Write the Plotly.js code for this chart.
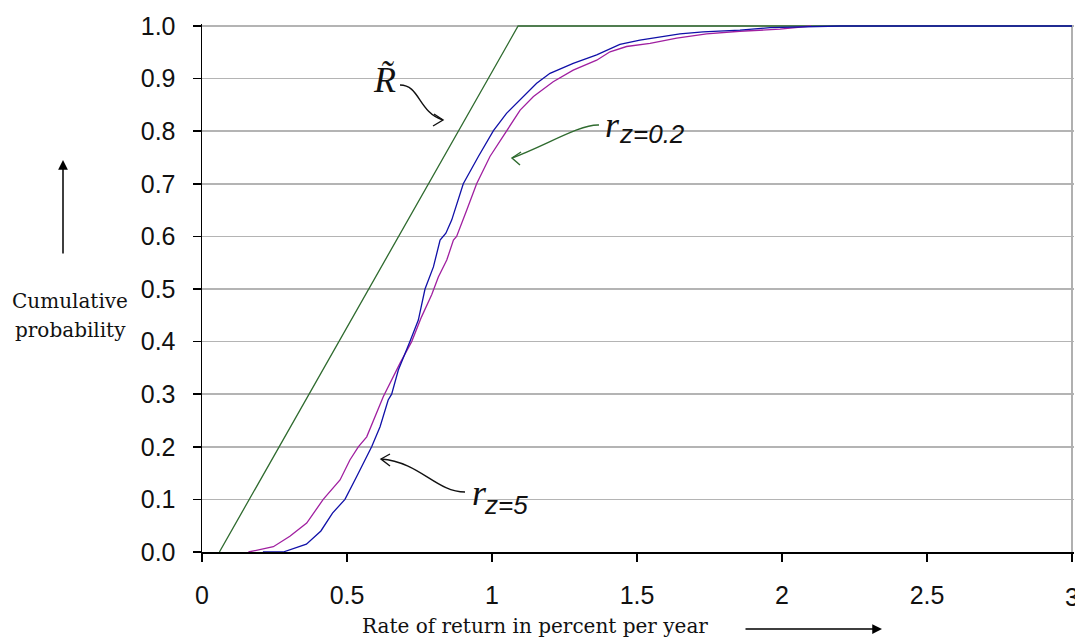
<!DOCTYPE html>
<html>
<head>
<meta charset="utf-8">
<script src="https://cdn.plot.ly/plotly-3.0.1.min.js"></script>
<style>html,body{margin:0;padding:0;background:#fff;}#chart{width:1075px;height:639px;}</style>
</head>
<body>
<div id="chart"></div>
<script>
// ---- data ----
const xRtilde = [0.06, 1.09, 3.0];
const yRtilde = [0, 1, 1];

const xRz5 = [0.21,0.28,0.36,0.41,0.45,0.493,0.533,0.562,0.585,0.614,0.642,0.654,0.677,0.717,0.746,0.769,0.798,0.821,0.841,0.861,0.872,0.901,0.953,1.005,1.05,1.091,1.154,1.2,1.28,1.361,1.441,1.51,1.579,1.648,1.728,1.855,1.959,2.2,3.0];
const yRz5 = [0,0,0.015,0.04,0.074,0.1,0.143,0.175,0.2,0.238,0.289,0.3,0.346,0.4,0.441,0.5,0.542,0.593,0.606,0.631,0.65,0.7,0.752,0.801,0.834,0.856,0.891,0.91,0.929,0.945,0.965,0.973,0.979,0.985,0.989,0.992,0.997,1.0,1.0];

const xRz02 = [0.16,0.246,0.303,0.361,0.418,0.476,0.51,0.539,0.568,0.6,0.625,0.683,0.723,0.757,0.792,0.815,0.844,0.867,0.878,0.913,0.947,0.993,1.05,1.097,1.143,1.211,1.28,1.361,1.407,1.464,1.545,1.637,1.74,1.855,1.993,2.1];
const yRz02 = [0,0.01,0.03,0.055,0.1,0.137,0.175,0.2,0.219,0.26,0.295,0.359,0.4,0.447,0.489,0.523,0.555,0.593,0.6,0.65,0.7,0.752,0.801,0.84,0.866,0.894,0.916,0.935,0.951,0.961,0.967,0.977,0.985,0.99,0.994,1.0];

const xTickVals = [0, 0.5, 1, 1.5, 2, 2.5];
const xTickText = ['0', '0.5', '1', '1.5', '2', '2.5'];
const xLastTick = '3';
const yTickVals = [0,0.1,0.2,0.3,0.4,0.5,0.6,0.7,0.8,0.9,1.0];
const yTickText = yTickVals.map(v => v.toFixed(1));

const xTitle = 'Rate of return in percent per year';
const yTitle1 = 'Cumulative';
const yTitle2 = 'probability';

// ---- layout geometry (pixels) ----
const L = 202, R = 1074, T = 24, B = 552;
const PX = x => (x - L) / (R - L);   // pixel -> paper x
const PY = y => (B - y) / (B - T);   // pixel -> paper y
const P = (x, y) => PX(x).toFixed(5) + ',' + PY(y).toFixed(5);

const GREEN = '#2f6b2f', BLUE = '#1010a8', MAG = '#a01fa0';

const traces = [
  {x: xRtilde, y: yRtilde, mode: 'lines', line: {color: GREEN, width: 1.3}, hoverinfo: 'skip'},
  {x: xRz02, y: yRz02, mode: 'lines', line: {color: MAG, width: 1.3}, hoverinfo: 'skip'},
  {x: xRz5, y: yRz5, mode: 'lines', line: {color: BLUE, width: 1.3}, hoverinfo: 'skip'}
];

function gap(x0, x1, yc) {
  return {type: 'rect', xref: 'paper', yref: 'paper', layer: 'between',
    x0: PX(x0), x1: PX(x1), y0: PY(yc + 4), y1: PY(yc - 4),
    fillcolor: '#ffffff', line: {width: 0}};
}
function path(d, color) {
  return {type: 'path', xref: 'paper', yref: 'paper', path: d, line: {color: color, width: 1.4}};
}

const shapes = [
  gap(358, 428, 78.6),
  gap(558, 693, 130.7),
  gap(427, 547, 499.4),
  {type: 'line', xref: 'x', yref: 'y', x0: 3, x1: 3, y0: 0, y1: 1, layer: 'between', line: {color: '#b0b0b0', width: 2}},
  // curved arrow to R~
  path('M' + P(400, 85) + ' C' + P(420, 85) + ' ' + P(418, 112) + ' ' + P(443, 120), '#111'),
  path('M' + P(434, 114) + ' L' + P(443, 120) + ' L' + P(433, 126), '#111'),
  // curved arrow rz=0.2
  path('M' + P(599, 125) + ' C' + P(580, 124) + ' ' + P(545, 146) + ' ' + P(512, 158), GREEN),
  path('M' + P(521, 152) + ' L' + P(512, 158) + ' L' + P(520, 165), GREEN),
  // curved arrow rz=5
  path('M' + P(465, 492) + ' C' + P(436, 492) + ' ' + P(420, 462) + ' ' + P(381, 459), '#111'),
  path('M' + P(390, 454) + ' L' + P(381, 459) + ' L' + P(390, 466), '#111')
];

const serif = 'DejaVu Serif';
function txt(text, x, y, size, family, color) {
  return {xref: 'paper', yref: 'paper', x: PX(x), y: PY(y), text: text, showarrow: false,
    xanchor: 'center', yanchor: 'middle', font: {family: family, size: size, color: color || '#111'}};
}

const tickFont = {family: 'Liberation Sans', size: 25, color: '#111'};

const annotations = [
  txt(yTitle1, 70, 301, 20, serif),
  txt(yTitle2, 70, 330, 20, serif),
  txt(xTitle, 535, 626, 20, serif),
  txt(xLastTick, 1072, 597, 25, 'Liberation Sans'),
  // y arrow
  {xref: 'paper', yref: 'paper', x: PX(63), y: PY(160), ax: 0, ay: 95, text: '', showarrow: true,
    arrowhead: 2, arrowsize: 1.3, arrowwidth: 1.5, arrowcolor: '#000'},
  // x arrow
  {xref: 'paper', yref: 'paper', x: PX(882), y: PY(629), ax: -138, ay: 0, text: '', showarrow: true,
    arrowhead: 2, arrowsize: 1.3, arrowwidth: 1.5, arrowcolor: '#000'},
  // labels
  txt('<i>R\u0303</i>', 384, 80, 36, 'Liberation Serif'),
  txt('<i>r</i>', 612, 125, 36, 'Liberation Serif'),
  txt('<i>z=0.2</i>', 652, 134, 26, 'Liberation Sans'),
  txt('<i>r</i>', 479, 493, 36, 'Liberation Serif'),
  txt('<i>z=5</i>', 506, 505, 26, 'Liberation Sans')
];

const layout = {
  width: 1075, height: 639,
  margin: {l: L, r: 1075 - R, t: T, b: 639 - B},
  paper_bgcolor: '#ffffff', plot_bgcolor: '#ffffff',
  showlegend: false,
  xaxis: {
    range: [0, 3 * (R - L) / 870], tickvals: xTickVals.concat([3]), ticktext: xTickText.concat(['']),
    ticks: 'outside', ticklen: 8, tickwidth: 1.5, tickcolor: '#000',
    showline: true, linecolor: '#000', linewidth: 1.5,
    showgrid: false, zeroline: false, tickfont: tickFont, ticklabelstandoff: 12, fixedrange: true
  },
  yaxis: {
    range: [0, (B - T) / 526], tickvals: yTickVals, ticktext: yTickText,
    ticks: 'outside', ticklen: 8, tickwidth: 1.5, tickcolor: '#000',
    showline: true, linecolor: '#000', linewidth: 1.5,
    showgrid: true, gridcolor: '#b4b4b4', gridwidth: 1.5,
    zeroline: false, tickfont: tickFont, ticklabelstandoff: 12, fixedrange: true
  },
  shapes: shapes,
  annotations: annotations
};

Plotly.newPlot('chart', traces, layout, {staticPlot: true, displayModeBar: false});
</script>
</body>
</html>
